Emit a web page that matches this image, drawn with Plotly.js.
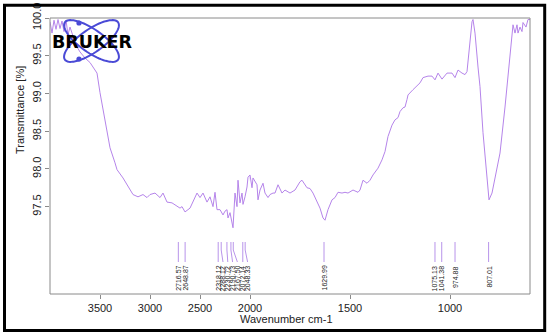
<!DOCTYPE html>
<html>
<head>
<meta charset="utf-8">
<script src="https://cdn.plot.ly/plotly-3.0.1.min.js"></script>
<style>html,body{margin:0;padding:0;background:#fff;}#chart{width:550px;height:336px;}</style>
</head>
<body>
<div id="chart"></div>
<script>
// ---- Data ----
const wavenumber = [
  4000, 3980, 3960, 3940, 3920, 3900, 3880, 3860, 3840, 3820, 3800, 3780, 3760, 3740, 3700,
  3650, 3600, 3560, 3530, 3500, 3470, 3450, 3400, 3350, 3330, 3270, 3220, 3170, 3120, 3070,
  3030, 3000, 2950, 2900, 2870, 2830, 2780, 2730, 2700, 2680, 2650, 2600, 2570, 2530, 2500,
  2470, 2430, 2400, 2370, 2350, 2330, 2300, 2270, 2250, 2230, 2220, 2200, 2180, 2170, 2150,
  2130, 2120, 2100, 2080, 2070, 2050, 2030, 2020, 2000, 1990, 1985, 1965, 1960, 1950, 1935,
  1925, 1910, 1900, 1885, 1875, 1860, 1840, 1825, 1800, 1775, 1750, 1740, 1715, 1700, 1685,
  1665, 1650, 1635, 1625, 1610, 1590, 1575, 1560, 1540, 1525, 1510, 1485, 1460, 1450, 1435,
  1415, 1400, 1385, 1360, 1340, 1325, 1310, 1290, 1275, 1260, 1250, 1235, 1225, 1215, 1210,
  1185, 1150, 1135, 1110, 1090, 1075, 1060, 1040, 1015, 990, 975, 960, 940, 925, 915,
  910, 900, 890, 885, 875, 860, 850, 835, 815, 805, 790, 765, 750, 725, 710,
  690, 685, 675, 665, 660, 650, 640, 635, 620, 610, 600
];
const transmittance = [
  99.95, 99.80, 99.97, 99.85, 99.98, 99.86, 99.96, 99.82, 99.97, 99.78, 99.88, 99.80, 99.70, 99.64, 99.55,
  99.47, 99.41, 99.33, 99.27, 99.01, 98.78, 98.65, 98.28, 98.08, 97.99, 97.88, 97.76, 97.66, 97.63, 97.66,
  97.62, 97.66, 97.68, 97.62, 97.68, 97.56, 97.55, 97.50, 97.48, 97.50, 97.43, 97.48, 97.56, 97.68, 97.62,
  97.68, 97.56, 97.63, 97.50, 97.69, 97.46, 97.46, 97.39, 97.44, 97.46, 97.35, 97.42, 97.30, 97.22, 97.68,
  97.50, 97.85, 97.55, 97.68, 97.53, 97.63, 97.76, 97.89, 97.92, 97.75, 97.88, 97.79, 97.59, 97.72, 97.81,
  97.68, 97.62, 97.66, 97.68, 97.68, 97.79, 97.68, 97.72, 97.68, 97.72, 97.83, 97.85, 97.75, 97.74, 97.68,
  97.56, 97.48, 97.35, 97.32, 97.46, 97.59, 97.62, 97.69, 97.68, 97.69, 97.68, 97.72, 97.69, 97.72, 97.85,
  97.81, 97.85, 97.92, 98.01, 98.12, 98.23, 98.43, 98.58, 98.65, 98.68, 98.76, 98.81, 98.82, 98.92, 98.98,
  99.05, 99.14, 99.21, 99.23, 99.23, 99.18, 99.27, 99.19, 99.27, 99.27, 99.21, 99.31, 99.27, 99.25, 99.29,
  99.42, 99.71, 99.95, 99.98, 99.80, 99.35, 99.09, 98.48, 97.89, 97.59, 97.68, 97.99, 98.21, 98.82, 99.27,
  99.87, 99.91, 99.80, 99.91, 99.80, 99.88, 99.82, 99.94, 99.88, 99.98, 99.98
];
const peakPositions = [2716.57, 2648.87, 2318.12, 2288.12, 2230.72, 2190.73, 2167.50, 2072.14, 2048.33,
                       1629.99, 1075.13, 1041.38, 974.88, 807.01];
const peakLabels = ['2716.57', '2648.87', '2318.12', '2288.12', '2230.72', '2190.73', '2167.50', '2072.14', '2048.33',
                    '1629.99', '1075.13', '1041.38', '974.88', '807.01'];
const xTicksHigh = [3500, 3000, 2500];
const xTicksLow = [2000, 1500, 1000];
const yTicks = [97.5, 98.0, 98.5, 99.0, 99.5, 100.0];

// ---- Layout geometry ----
const W = 550, H = 336;
const M = {l: 50, r: 20, t: 18, b: 42};
const PW = W - M.l - M.r, PH = H - M.t - M.b;
const split = 200 / PW; // 4000-2000 region is drawn at half scale (OPUS style)
const px = v => (v - M.l) / PW;
const py = v => (H - M.b - v) / PH;

const lineColor = '#b584ea';
const tickFont = {family: 'Liberation Sans, Arial, sans-serif', size: 11, color: '#222'};
const labelFont = {family: 'Liberation Sans, Arial, sans-serif', size: 7, color: '#222'};

const traces = [
  {x: wavenumber, y: transmittance, xaxis: 'x', yaxis: 'y', type: 'scatter', mode: 'lines',
   line: {color: lineColor, width: 1}, hoverinfo: 'skip'},
  {x: wavenumber, y: transmittance, xaxis: 'x2', yaxis: 'y', type: 'scatter', mode: 'lines',
   line: {color: lineColor, width: 1}, hoverinfo: 'skip'}
];

const shapes = [];
const annotations = [];

// approximate pixel position of a peak, used only to spread crowded labels
function peakPx(w) { return w > 2000 ? 50 + (4000 - w) * 0.1 : 250 + (2000 - w) * 0.2; }
let lastLabel = -1e9;
peakPositions.forEach((p, i) => {
  const ref = p > 2000 ? 'x' : 'x2';
  const pp = peakPx(p);
  const lab = Math.max(pp, lastLabel + 4.8);
  lastLabel = lab;
  const off = lab - pp;
  shapes.push({type: 'line', xref: ref, yref: 'paper', x0: p, x1: p, y0: py(242), y1: py(250),
               line: {color: '#b894ea', width: 1}});
  shapes.push({type: 'line', xref: ref, yref: 'paper', xsizemode: 'pixel', xanchor: p,
               x0: 0, x1: off, y0: py(250), y1: py(262), line: {color: '#b894ea', width: 1}});
  annotations.push({x: p, xref: ref, xshift: off, y: py(264), yref: 'paper', yanchor: 'top',
                    xanchor: 'center', text: peakLabels[i], textangle: -90, showarrow: false,
                    font: labelFont});
});

// plot box
shapes.push({type: 'rect', xref: 'paper', yref: 'paper', x0: 0, x1: 1, y0: 0, y1: 1,
             line: {color: '#8a8a8a', width: 1}, layer: 'above'});
// outer black frame
shapes.push({type: 'rect', xref: 'paper', yref: 'paper', x0: px(4.5), x1: px(544.7), y0: py(330.5), y1: py(5.3),
             line: {color: '#000', width: 3}, layer: 'above'});

// Bruker logo ellipses
function ellipsePath(cx, cy, a, b, angDeg) {
  const t = angDeg * Math.PI / 180;
  let d = '';
  for (let k = 0; k <= 72; k++) {
    const s = k / 72 * 2 * Math.PI;
    const ex = a * Math.cos(s), ey = b * Math.sin(s);
    const X = cx + ex * Math.cos(t) - ey * Math.sin(t);
    const Y = cy + ex * Math.sin(t) + ey * Math.cos(t);
    d += (k === 0 ? 'M' : 'L') + px(X).toFixed(5) + ',' + py(Y).toFixed(5);
  }
  return d + 'Z';
}
const logoBlue = '#4a4ad6';
shapes.push({type: 'path', xref: 'paper', yref: 'paper', path: ellipsePath(91.5, 41, 32.5, 11.5, 35),
             line: {color: logoBlue, width: 2}});
shapes.push({type: 'path', xref: 'paper', yref: 'paper', path: ellipsePath(91.5, 41, 32.5, 11.5, -35),
             line: {color: logoBlue, width: 2}});
[[79, 23], [79, 59]].forEach(([cx, cy]) => {
  shapes.push({type: 'circle', xref: 'paper', yref: 'paper', x0: px(cx - 2.6), x1: px(cx + 2.6),
               y0: py(cy + 2.6), y1: py(cy - 2.6), fillcolor: logoBlue, line: {color: logoBlue, width: 0}});
});
annotations.push({x: px(92), y: py(42), xref: 'paper', yref: 'paper', text: '<b>BRUKER</b>', showarrow: false,
                  xanchor: 'center', yanchor: 'middle',
                  font: {family: 'DejaVu Sans, sans-serif', size: 17.5, color: '#000'}});

// axis titles
annotations.push({x: px(286), y: py(319), xref: 'paper', yref: 'paper', text: 'Wavenumber cm-1',
                  showarrow: false, xanchor: 'center', yanchor: 'middle', font: tickFont});
annotations.push({x: px(20), y: py(110), xref: 'paper', yref: 'paper', text: 'Transmittance [%]',
                  showarrow: false, xanchor: 'center', yanchor: 'middle', textangle: -90, font: tickFont});

const axisCommon = {showgrid: false, zeroline: false, showline: false, ticks: 'outside', ticklen: 4,
                    tickcolor: '#8a8a8a', tickfont: tickFont, anchor: 'y', fixedrange: true};
const layout = {
  width: W, height: H, margin: M, showlegend: false,
  paper_bgcolor: '#fff', plot_bgcolor: '#fff',
  xaxis: Object.assign({}, axisCommon, {domain: [0, split], range: [4000, 2000], tickmode: 'array', tickvals: xTicksHigh}),
  xaxis2: Object.assign({}, axisCommon, {domain: [split, 1], range: [2000, 600], tickmode: 'array', tickvals: xTicksLow}),
  yaxis: {showgrid: false, zeroline: false, showline: false, ticks: 'outside', ticklen: 4, tickcolor: '#8a8a8a',
          tickfont: tickFont, range: [96.342, 100.0], tickmode: 'array', tickvals: yTicks, tickformat: '.1f',
          tickangle: -90, anchor: 'x', fixedrange: true},
  shapes: shapes,
  annotations: annotations
};
Plotly.newPlot('chart', traces, layout, {staticPlot: true, displayModeBar: false});
</script>
</body>
</html>
